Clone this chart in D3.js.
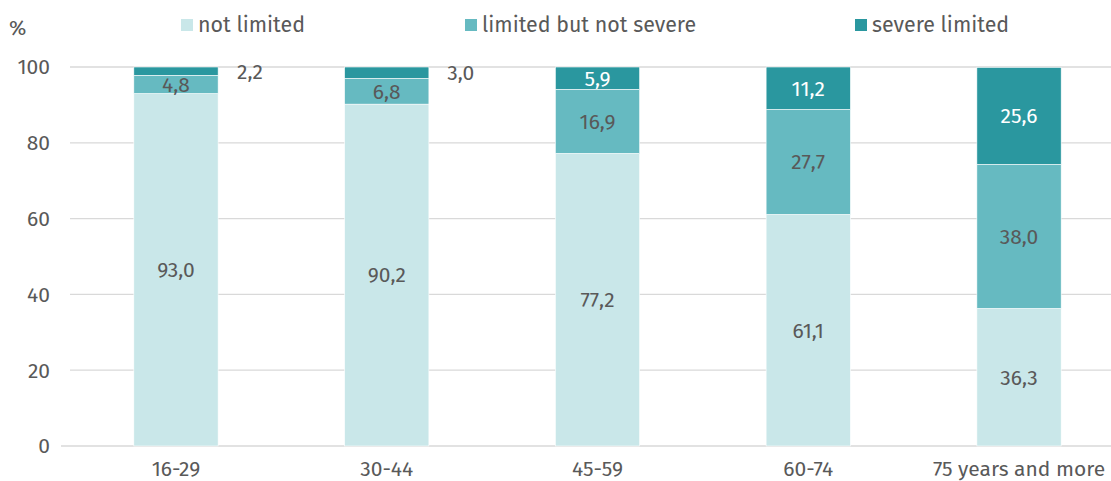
<!DOCTYPE html>
<html><head><meta charset="utf-8">
<script src="https://cdn.jsdelivr.net/npm/d3@7"></script>
<style>body{margin:0;background:#fff}svg{display:block;font-family:"Fira Sans","Open Sans","Noto Sans",sans-serif}</style>
</head><body><svg id="c" width="1111" height="481"></svg>
<script>
const categories = ["16-29","30-44","45-59","60-74","75 years and more"];
const notLimited = [93.0, 90.2, 77.2, 61.1, 36.3];
const limitedNotSevere = [4.8, 6.8, 16.9, 27.7, 38.0];
const severeLimited = [2.2, 3.0, 5.9, 11.2, 25.6];
const seriesNames = ["not limited","limited but not severe","severe limited"];
const yTicks = [0,20,40,60,80,100];

const colors = ["#c9e7e9","#66bac1","#2a979f"];
const textColor = "#595959";
const fs = 21;
const svg = d3.select("#c");
const x = d3.scaleBand().domain(categories).range([70.6,1124.4]).paddingInner(0.6).paddingOuter(0.3);
const y = d3.scaleLinear().domain([0,100]).range([446,67]);

// gridlines
svg.append("g").selectAll("line").data(yTicks.filter(d=>d>0)).join("line")
  .attr("x1",70).attr("x2",1111).attr("y1",d=>y(d)).attr("y2",d=>y(d))
  .attr("stroke","#d9d9d9").attr("stroke-width",1.3);
svg.append("line").attr("x1",61).attr("x2",1111).attr("y1",y(0)).attr("y2",y(0))
  .attr("stroke","#d9d9d9").attr("stroke-width",1.5);

// y tick labels
svg.append("g").selectAll("text").data(yTicks).join("text")
  .attr("x",50).attr("y",d=>y(d)).attr("dy","0.35em").attr("text-anchor","end")
  .attr("font-size",fs).attr("fill",textColor).text(d=>d);
svg.append("text").attr("x",9).attr("y",35).attr("font-size",fs).attr("fill",textColor).text("%");

// stack
const rows = categories.map((c,i)=>({cat:c, s0:notLimited[i], s1:limitedNotSevere[i], s2:severeLimited[i]}));
const stack = d3.stack().keys(["s0","s1","s2"])(rows);
const g = svg.append("g");
stack.forEach((layer,k)=>{
  g.append("g").selectAll("rect").data(layer).join("rect")
    .attr("x",d=>x(d.data.cat)).attr("width",x.bandwidth())
    .attr("y",d=>y(d[1])).attr("height",d=>y(d[0])-y(d[1]))
    .attr("fill",colors[k]).attr("stroke","#ffffff").attr("stroke-width",0.6);
});
// labels
const fmt = v => v.toFixed(1).replace(".",",");
stack.forEach((layer,k)=>{
  g.append("g").selectAll("text").data(layer).join("text")
    .attr("x",(d,i)=>{
      const cx = x(d.data.cat)+x.bandwidth()/2;
      return (k===2 && (d[1]-d[0])<4) ? cx+74 : cx;})
    .attr("y",d=>y((d[0]+d[1])/2)).attr("dy","0.35em").attr("text-anchor","middle")
    .attr("font-size",fs)
    .attr("fill",d=>(k===2 && (d[1]-d[0])>=4) ? "#ffffff" : textColor)
    .text(d=>fmt(d[1]-d[0]));
});

// x labels
svg.append("g").selectAll("text").data(categories).join("text")
  .attr("x",d=>x(d)+x.bandwidth()/2).attr("y",469).attr("dy","0.35em").attr("text-anchor","middle")
  .attr("font-size",fs).attr("fill",textColor).text(d=>d);

// legend
const legX = [181,465,855];
const leg = svg.append("g").selectAll("g").data(seriesNames).join("g")
  .attr("transform",(d,i)=>`translate(${legX[i]},19)`);
leg.append("rect").attr("width",12).attr("height",12).attr("fill",(d,i)=>colors[i]);
leg.append("text").attr("x",17).attr("y",5).attr("dy","0.35em").attr("font-size",21.4)
  .attr("fill",textColor).text(d=>d);
</script></body></html>
